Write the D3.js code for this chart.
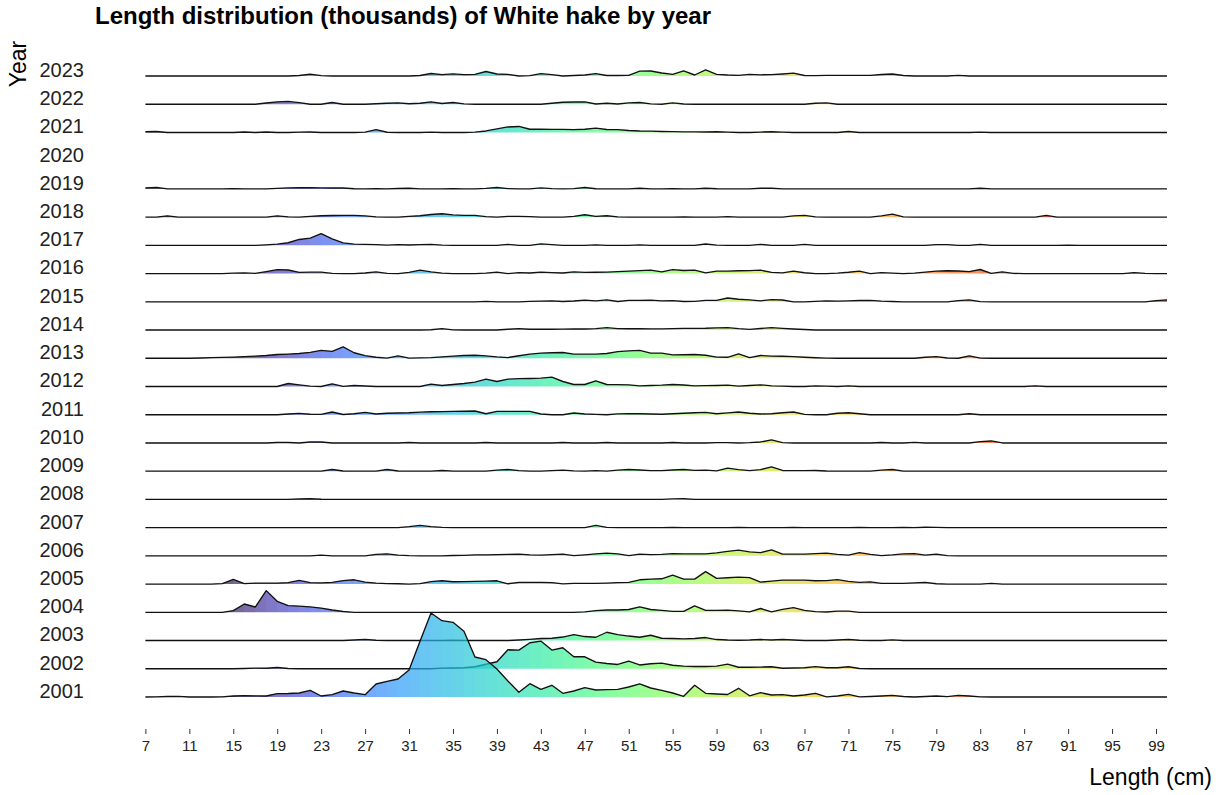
<!DOCTYPE html>
<html lang="en">
<head>
<meta charset="UTF-8">
<title>Length distribution of White hake by year</title>
<script src="https://d3js.org/d3.v7.min.js"></script>
<style>
  body { margin: 0; background: #fff; }
  text { font-family: "Liberation Sans", Arial, sans-serif; }
  .title { font-size: 24px; font-weight: bold; fill: #000; }
  .axis-title { font-size: 23px; fill: #000; }
  .year-axis text { font-size: 20px; fill: #222; }
  .len-axis text { font-size: 15px; fill: #222; }
  .len-axis line { stroke: #333; }
  .ridge-line { fill: none; stroke: #111; stroke-width: 1.35; stroke-linejoin: round; }
</style>
</head>
<body>
<svg id="chart" width="1225" height="795"></svg>
<script>
// categories
const years = [2001, 2002, 2003, 2004, 2005, 2006, 2007, 2008, 2009, 2010, 2011, 2012,
               2013, 2014, 2015, 2016, 2017, 2018, 2019, 2020, 2021, 2022, 2023];
const lengths = [7, 8, 9, 10, 11, 12, 13, 14, 15, 16, 17, 18, 19, 20, 21, 22, 23, 24, 25, 26,
  27, 28, 29, 30, 31, 32, 33, 34, 35, 36, 37, 38, 39, 40, 41, 42, 43, 44, 45, 46, 47, 48, 49, 50,
  51, 52, 53, 54, 55, 56, 57, 58, 59, 60, 61, 62, 63, 64, 65, 66, 67, 68, 69, 70, 71, 72, 73, 74,
  75, 76, 77, 78, 79, 80, 81, 82, 83, 84, 85, 86, 87, 88, 89, 90, 91, 92, 93, 94, 95, 96, 97, 98,
  99, 100];
const tickLengths = [7, 11, 15, 19, 23, 27, 31, 35, 39, 43, 47, 51, 55, 59, 63, 67, 71, 75, 79, 83, 87, 91, 95, 99];

// numbers (thousands) per length; lengths not listed are 0
const y2001 = [[8,0.2],[9,0.5],[10,0.7],[14,0.2],[15,1],[16,1.3],[17,1.2],[18,1],[19,3.3],[20,3.5],[21,4],[22,6.7],[23,1],[24,2.3],[25,6],[26,4],[27,2.3],[28,13],[29,15.7],[30,18],[31,27],[32,55.7],[33,84],[34,76.3],[35,74.7],[36,65.7],[37,40],[38,37.3],[39,28],[40,16],[41,4.7],[42,13.3],[43,7.7],[44,11.7],[45,3.7],[46,6],[47,9.3],[48,7],[49,7.3],[50,7.7],[51,10],[52,13.2],[53,9],[54,6.7],[55,4],[56,0.7],[57,11.7],[58,3.7],[59,3],[60,2.5],[61,8.7],[62,1.2],[63,4.3],[64,2],[65,2.3],[66,1],[67,2],[68,3.7],[69,0.2],[70,1],[71,2.7],[72,0.2],[73,0.5],[74,1],[75,1.7],[76,0.5],[78,0.5],[79,1],[80,0.3],[81,1.7],[82,1],[83,0.2]];
const y2002 = [[16,0.3],[17,0.7],[18,0.5],[19,1.3],[20,0.3],[34,0.7],[35,0.8],[36,1],[37,2],[38,4.5],[39,7],[40,19],[41,18.7],[42,26],[43,27.7],[44,18.7],[45,21],[46,12],[47,12],[48,6.7],[49,5.3],[50,4.3],[51,7.7],[52,3.8],[53,5],[54,5.7],[55,3.5],[56,2.7],[57,2.3],[58,2.3],[59,2.7],[60,4.7],[61,1.5],[62,1.5],[63,1.7],[64,2],[65,0.5],[66,0.8],[67,1],[68,2.2],[69,1],[70,1],[71,2],[72,0.3]];
const y2003 = [[26,0.5],[27,1],[28,0.3],[35,0.3],[41,0.5],[42,1.2],[43,2],[44,2.3],[45,3.5],[46,6],[47,4],[48,3.3],[49,8.3],[50,6],[51,4.5],[52,3.3],[53,5.3],[54,2.3],[55,2],[56,1.7],[57,2],[58,3],[59,1],[60,0.5],[61,0.3],[62,0.5],[63,1],[64,0.5],[65,1],[66,0.5],[70,0.5],[71,1],[72,0.3],[75,0.7]];
const y2004 = [[15,1.7],[16,8.3],[17,5.3],[18,21.7],[19,11],[20,6.7],[21,6.2],[22,5.5],[23,4.2],[24,2.3],[25,0.8],[47,0.5],[48,1.7],[49,2.3],[50,2.3],[51,2.8],[52,5.5],[53,2.8],[54,2],[55,1],[56,1],[57,6.5],[58,2],[59,2],[60,2.2],[61,1.5],[62,0.5],[63,3.8],[64,0.5],[65,3],[66,4.7],[67,2],[68,0.7],[69,0.3],[70,1.2],[71,1.2]];
const y2005 = [[14,0.5],[15,4.7],[16,0.5],[17,1],[18,1],[19,1],[20,1.5],[21,3.7],[22,1.5],[23,1.2],[24,1.7],[25,3.5],[26,4.3],[27,2],[28,1],[29,0.5],[30,0.3],[32,0.5],[33,2.5],[34,3.3],[35,2.3],[36,2.5],[37,2.7],[38,3],[39,3.3],[40,0.3],[41,1.7],[42,1.7],[43,1.7],[44,1.5],[45,0.2],[46,0.7],[47,0.7],[48,0.7],[49,1],[50,1.5],[51,1.7],[52,4.3],[53,5],[54,5.3],[55,9],[56,5],[57,5],[58,12.5],[59,5.7],[60,6.3],[61,7],[62,6.5],[63,2],[64,3],[65,4],[66,4],[67,4],[68,3.3],[69,3.5],[70,4.5],[71,2.7],[72,1.7],[73,2.2],[74,0.7],[75,0.7],[76,0.7],[77,1.2],[78,1.7],[79,0.3],[84,0.7]];
const y2006 = [[23,0.7],[28,1.5],[29,2],[30,0.7],[31,0.2],[35,0.4],[36,0.5],[37,1],[38,1],[39,1.2],[40,1.5],[41,1.7],[42,1],[43,0.7],[44,1.2],[45,1.7],[46,0.2],[47,1],[48,2],[49,2.7],[50,2],[51,0.3],[52,1.7],[53,1.2],[54,1.5],[55,2.3],[56,2],[57,2],[58,2],[59,3],[60,4.5],[61,5.7],[62,4],[63,3.3],[64,6],[65,1.7],[66,1.7],[67,1.7],[68,2.2],[69,2.7],[70,1.5],[71,0.7],[72,3.3],[73,1.5],[74,0.3],[75,1],[76,2],[77,2.3],[78,0.7],[79,1.7],[80,0.2]];
const y2007 = [[31,1],[32,2.3],[33,1],[34,0.2],[48,2.3],[49,0.3],[55,0.2],[61,0.3],[66,0.3],[72,0.3],[76,0.3],[78,0.4],[79,0.3]];
const y2008 = [[21,0.4],[22,0.7],[23,0.2],[55,0.5],[56,0.7]];
const y2009 = [[24,1.7],[25,0.2],[29,1.7],[30,0.2],[34,0.7],[39,1],[40,1.7],[41,0.5],[44,0.5],[45,1],[46,0.3],[48,0.5],[50,1],[51,1.7],[52,1.2],[53,0.5],[54,0.5],[55,1.2],[56,1.7],[57,0.8],[58,1],[59,0.3],[60,3],[61,1.5],[62,0.5],[63,1.5],[64,4.3],[65,0.7],[66,0.5],[67,0.5],[68,0.7],[69,0.2],[74,1],[75,1.7]];
const y2010 = [[19,0.5],[20,0.5],[22,1],[23,1],[31,0.5],[38,0.5],[45,0.5],[49,0.5],[55,0.5],[59,0.3],[60,0.3],[62,0.3],[63,1],[64,3],[65,0.3],[74,0.5],[77,0.6],[83,1.3],[84,2]];
const y2011 = [[20,0.7],[21,1.3],[22,0.5],[23,0.3],[24,2.7],[25,0.2],[26,1],[27,2.3],[28,0.7],[29,1.5],[30,1.7],[31,2],[32,2.6],[33,3],[34,3.1],[35,3.3],[36,3.5],[37,3.7],[38,1],[39,3.3],[40,3.3],[41,3.3],[42,3.3],[43,0.7],[46,1.7],[47,0.7],[48,0.3],[50,0.8],[51,1],[52,1],[53,0.7],[54,0.5],[55,1],[56,1.5],[57,2],[58,2.3],[59,1],[60,1.8],[61,2.7],[62,1.5],[63,0.7],[64,1],[65,2],[66,2.7],[67,0.3],[70,1.5],[71,2],[72,1],[82,1]];
const y2012 = [[20,3],[21,1.7],[22,0.3],[24,2.7],[25,0.2],[26,1],[27,0.5],[33,2.3],[34,1],[35,2],[36,3],[37,4.3],[38,7.3],[39,5],[40,7.3],[41,7.8],[42,8],[43,8.3],[44,9.3],[45,5],[46,2],[47,2],[48,5.7],[49,2],[50,1.8],[51,1.7],[52,0.7],[53,1],[54,1.3],[55,2],[56,1.5],[57,0.7],[58,0.8],[59,1],[60,1.3],[61,0.3],[62,1],[63,1.7],[64,0.7],[65,0.4],[68,0.7],[69,0.3],[71,0.7],[88,0.7]];
const y2013 = [[12,0.3],[13,0.7],[14,0.9],[15,1.2],[16,1.7],[17,2.2],[18,2.8],[19,3.8],[20,4.2],[21,4.8],[22,5.9],[23,7.9],[24,6.9],[25,11.4],[26,5.5],[27,2.6],[28,1],[29,0.2],[30,2.4],[31,0.2],[32,0.4],[33,0.7],[34,1.4],[35,2.2],[36,2.8],[37,3],[38,2.4],[39,1.4],[40,0.7],[41,2.5],[42,4.1],[43,5.2],[44,5.5],[45,5.8],[46,4.1],[47,4.1],[48,4.1],[49,4.8],[50,6.6],[51,7.4],[52,7.9],[53,5.2],[54,5.2],[55,3.4],[56,3.5],[57,3.8],[58,3],[59,1.2],[60,1],[61,4.5],[62,0.7],[63,2.8],[64,2.2],[65,2],[66,1.6],[67,1],[68,0.5],[69,0.2],[78,1],[79,1.7],[80,0.3],[82,2.4],[83,0.2]];
const y2014 = [[33,0.3],[34,1.4],[35,0.2],[40,0.8],[41,1.4],[42,0.8],[43,0.8],[44,0.8],[45,0.9],[46,1],[47,1],[48,1.4],[49,2.4],[50,1.4],[51,1.3],[52,1.4],[53,1.2],[54,1.2],[55,1.4],[56,1.6],[57,1.7],[58,1.8],[59,2.2],[60,2.4],[61,1.4],[62,0.7],[63,1.5],[64,2.4],[65,1.7],[66,1],[67,0.5]];
const y2015 = [[38,0.5],[42,0.5],[43,0.7],[44,1],[45,0.3],[46,0.8],[47,1.7],[48,1],[49,2],[50,0.3],[51,1.4],[52,1.5],[53,1.7],[54,1],[55,1.2],[56,0.3],[57,0.5],[58,1.4],[59,1.5],[60,3.8],[61,2.6],[62,2],[63,1],[64,2.2],[65,1.8],[68,0.5],[69,1],[70,0.7],[71,0.9],[72,1.3],[73,1.4],[74,0.7],[75,0.3],[81,1.2],[82,2],[83,0.2],[99,1.2],[100,2]];
const y2016 = [[15,0.4],[16,0.7],[17,0.2],[18,2],[19,4],[20,3.6],[21,1.2],[22,1.4],[23,1.4],[24,0.2],[27,0.6],[28,1.7],[29,0.2],[31,1.2],[32,3.4],[33,1.7],[34,0.5],[38,0.5],[39,1.4],[41,1],[42,0.6],[43,1.4],[44,1],[45,0.6],[46,1.7],[47,1.2],[48,1.3],[49,1.5],[50,2],[51,2.5],[52,3],[53,3.4],[54,1.7],[55,4],[56,3.1],[57,3.4],[58,0.7],[59,2.4],[60,2.5],[61,2.8],[62,3],[63,3.4],[64,1.2],[65,0.7],[66,2.4],[67,0.8],[70,0.5],[71,1.3],[72,2.4],[74,1],[75,0.4],[77,0.5],[78,1.5],[79,2.4],[80,2.8],[81,2.6],[82,2],[83,4.1],[84,0.2],[85,1.7],[86,0.2],[97,1],[98,0.2]];
const y2017 = [[18,0.5],[19,1.2],[20,2.6],[21,5.9],[22,7.3],[23,11.7],[24,6.5],[25,2.5],[26,1.2],[27,1],[28,0.8],[29,0.2],[30,0.8],[31,0.4],[32,0.8],[33,1],[34,0.2],[40,1],[43,1.5],[44,0.8],[48,0.5],[52,0.5],[58,1.4],[59,0.2],[63,1],[67,1],[79,0.8],[80,0.8],[83,1],[91,0.3]];
const y2018 = [[9,1.3],[19,1.3],[20,0.3],[22,0.8],[23,1.4],[24,1.6],[25,1.7],[26,1.7],[27,1.2],[28,0.3],[31,0.8],[32,1.4],[33,2.6],[34,3.4],[35,2.2],[36,1.8],[37,1.7],[38,0.5],[40,0.7],[41,0.7],[42,0.5],[46,0.8],[47,2.4],[48,0.7],[49,1.4],[50,0.3],[56,0.3],[60,0.5],[66,1.2],[67,1.7],[68,0.3],[74,1.2],[75,3],[76,0.3],[89,1.7]];
const y2019 = [[7,1],[8,1.5],[15,0.3],[19,0.6],[20,1],[21,1.2],[22,1.2],[23,1],[24,0.9],[25,0.9],[26,0.2],[28,0.3],[30,0.4],[31,0.7],[35,0.3],[38,0.5],[39,1.4],[40,0.3],[43,1],[44,0.3],[46,0.3],[47,1.4],[48,0.2],[52,0.7],[55,0.2],[58,0.7],[59,0.2],[63,0.7],[64,0.7],[83,0.7]];
const y2020 = [];
const y2021 = [[7,0.7],[8,1],[16,0.5],[18,0.5],[21,0.4],[22,0.5],[27,0.3],[28,2.8],[29,0.2],[33,0.3],[37,0.3],[38,1.5],[39,3.5],[40,5.5],[41,6],[42,3.2],[43,3.2],[44,3.1],[45,3.1],[46,2.8],[47,3.2],[48,4.3],[49,3],[50,2.8],[51,2],[52,1.5],[53,1.3],[54,1],[55,0.8],[56,0.6],[57,0.6],[58,0.5],[59,0.7],[60,0.4],[63,0.4],[64,0.7],[65,0.3],[71,1],[83,0.3]];
const y2022 = [[18,1.2],[19,2.4],[20,2.8],[21,1.6],[24,1.7],[28,0.5],[29,1],[30,1.4],[31,0.5],[32,1],[33,2.4],[34,0.7],[35,1.7],[36,0.3],[44,1],[45,2],[46,2.2],[47,2.4],[48,0.2],[49,1],[50,0.2],[51,1.4],[52,1.7],[53,0.3],[55,1.4],[56,0.2],[68,1],[69,1.4]];
const y2023 = [[21,0.5],[22,1.8],[23,0.3],[32,0.5],[33,2.5],[34,1.3],[35,2.2],[36,1.3],[37,1.7],[38,4.5],[39,2],[40,1.7],[42,0.4],[43,2.4],[44,1.3],[46,0.5],[47,1],[48,2.4],[49,0.5],[50,0.5],[51,0.6],[52,4.8],[53,5],[54,3],[55,1.7],[56,5.2],[57,1],[58,6.2],[59,1.7],[60,1],[61,0.7],[62,1.7],[63,1.2],[64,1.4],[65,2],[66,2.8],[67,0.5],[68,0.3],[69,0.7],[70,0.7],[71,0.7],[72,0.7],[73,0.7],[74,1.5],[75,2],[76,0.5],[81,0.7]];

const byYear = {
  2001: y2001, 2002: y2002, 2003: y2003, 2004: y2004, 2005: y2005, 2006: y2006,
  2007: y2007, 2008: y2008, 2009: y2009, 2010: y2010, 2011: y2011, 2012: y2012,
  2013: y2013, 2014: y2014, 2015: y2015, 2016: y2016, 2017: y2017, 2018: y2018,
  2019: y2019, 2020: y2020, 2021: y2021, 2022: y2022, 2023: y2023
};

// full length grid per year (empty years have no ridge)
const rows = years.map(year => {
  const m = new Map(byYear[year]);
  return {
    year: year,
    values: byYear[year].length ? lengths.map(L => ({ L: L, v: m.get(L) || 0 })) : []
  };
});

const svg = d3.select("#chart");

const x = d3.scaleLinear().domain([7, 99]).range([145.4, 1156]);
const y = d3.scalePoint().domain(years).range([697, 76]);
const h = d3.scaleLinear()
  .domain([0, d3.max(rows, r => d3.max(r.values, d => d.v) || 0)])
  .range([0, 84]);

// fill colour follows length (turbo)
const colour = L => d3.interpolateTurbo(Math.max(0, Math.min(1, (L - 13) / 87)));

const x0 = x(lengths[0]), x1 = x(lengths[lengths.length - 1]);
const grad = svg.append("defs").append("linearGradient")
  .attr("id", "lenGrad")
  .attr("gradientUnits", "userSpaceOnUse")
  .attr("x1", x0).attr("x2", x1).attr("y1", 0).attr("y2", 0);
lengths.slice(0, -1).forEach(L => {
  const c = colour(L + 0.5);
  grad.append("stop").attr("offset", (x(L) - x0) / (x1 - x0)).attr("stop-color", c);
  grad.append("stop").attr("offset", (x(L + 1) - x0) / (x1 - x0)).attr("stop-color", c);
});

// ridges, top row first so lower rows sit on top
const ridges = svg.append("g");
rows.slice().reverse().forEach(r => {
  if (!r.values.length) return;
  const base = y(r.year);
  const g = ridges.append("g");
  g.append("path")
    .datum(r.values)
    .attr("fill", "url(#lenGrad)")
    .attr("fill-opacity", 0.7)
    .attr("d", d3.area().x(d => x(d.L)).y0(base).y1(d => base - h(d.v)));
  g.append("path")
    .datum(r.values)
    .attr("class", "ridge-line")
    .attr("d", d3.line().x(d => x(d.L)).y(d => base - h(d.v)));
});

// x axis
svg.append("g")
  .attr("class", "len-axis")
  .attr("transform", "translate(0,729)")
  .call(d3.axisBottom(x).tickValues(tickLengths).tickSize(5).tickPadding(6))
  .call(g => g.select(".domain").remove());

// y axis labels
svg.append("g")
  .attr("class", "year-axis")
  .attr("transform", "translate(88,0)")
  .call(d3.axisLeft(y).tickSize(0).tickPadding(4))
  .call(g => g.select(".domain").remove())
  .call(g => g.selectAll("text").attr("dy", "0.02em"));

// titles
svg.append("text")
  .attr("class", "title")
  .attr("x", 95).attr("y", 24)
  .text("Length distribution (thousands) of White hake by year");

svg.append("text")
  .attr("class", "axis-title")
  .attr("transform", "translate(26,64) rotate(-90)")
  .attr("text-anchor", "middle")
  .text("Year");

svg.append("text")
  .attr("class", "axis-title")
  .attr("x", 1212).attr("y", 785)
  .attr("text-anchor", "end")
  .text("Length (cm)");
</script>
</body>
</html>
